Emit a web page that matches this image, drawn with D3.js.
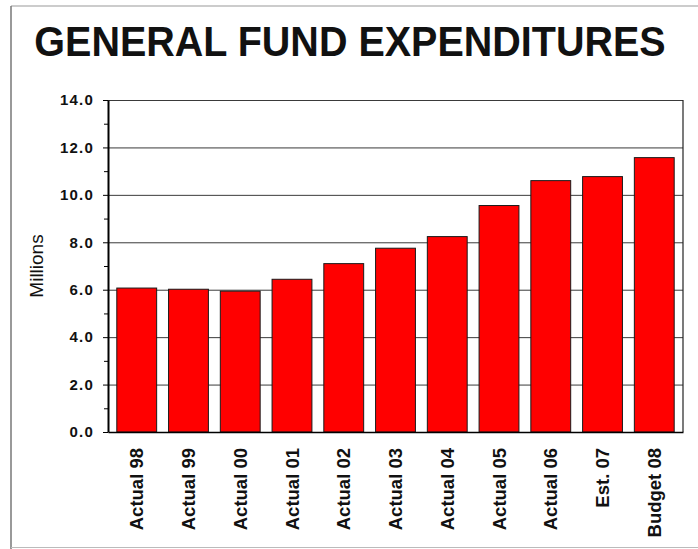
<!DOCTYPE html>
<html>
<head>
<meta charset="utf-8">
<script src="https://cdn.jsdelivr.net/npm/d3@7"></script>
<style>
  html, body { margin: 0; padding: 0; background: #fff; }
  svg { display: block; font-family: "Liberation Sans", Arial, sans-serif; }
</style>
</head>
<body>
<svg id="chart" width="698" height="549"></svg>
<script>
// General fund expenditures, in millions of dollars
const categories = ["Actual 98", "Actual 99", "Actual 00", "Actual 01", "Actual 02",
                    "Actual 03", "Actual 04", "Actual 05", "Actual 06", "Est. 07", "Budget 08"];
const expenditures = [6.07, 6.02, 5.94, 6.44, 7.10, 7.75, 8.24, 9.55, 10.60, 10.77, 11.57];
const yTicks = [0, 2, 4, 6, 8, 10, 12, 14];
const yMinorTicks = [1, 3, 5, 7, 9, 11, 13];
const titleText = "GENERAL FUND EXPENDITURES";
const yAxisTitle = "Millions";

const svg = d3.select("#chart");
const W = 698, H = 549;
const plot = { left: 108, right: 683, top: 100, bottom: 432 };

// Page frame
svg.append("line").attr("x1", 11).attr("x2", W).attr("y1", 6).attr("y2", 6)
  .attr("stroke", "#9a9a9a").attr("stroke-width", 1.2);
svg.append("line").attr("x1", 11).attr("x2", 11).attr("y1", 6).attr("y2", H)
  .attr("stroke", "#777").attr("stroke-width", 1.5);
svg.append("line").attr("x1", 11).attr("x2", W).attr("y1", 547.5).attr("y2", 547.5)
  .attr("stroke", "#bbb").attr("stroke-width", 1);

// Title (slightly stretched vertically for a condensed look)
svg.append("text")
  .attr("transform", "translate(350,56) scale(1,1.08)")
  .attr("text-anchor", "middle")
  .attr("font-size", 39.5).attr("font-weight", "bold").attr("fill", "#111")
  .text(titleText);

const x = d3.scaleBand().domain(categories)
  .range([plot.left, plot.right]).paddingInner(0.23).paddingOuter(0.17);
const y = d3.scaleLinear().domain([0, 14]).range([plot.bottom, plot.top]);

// Horizontal gridlines
svg.append("g")
  .selectAll("line").data(yTicks.filter(d => d > 0)).join("line")
  .attr("x1", plot.left).attr("x2", plot.right)
  .attr("y1", d => y(d) + 0.5).attr("y2", d => y(d) + 0.5)
  .attr("stroke", "#3a3a3a").attr("stroke-width", 1);

// Right border of plot area
svg.append("line").attr("x1", plot.right).attr("x2", plot.right)
  .attr("y1", plot.top).attr("y2", plot.bottom)
  .attr("stroke", "#222").attr("stroke-width", 1.2);

// Bars
svg.append("g")
  .selectAll("rect").data(categories).join("rect")
  .attr("x", d => x(d))
  .attr("width", x.bandwidth())
  .attr("y", (d, i) => y(expenditures[i]))
  .attr("height", (d, i) => y(0) - y(expenditures[i]))
  .attr("fill", "#ff0000")
  .attr("stroke", "#1a1a1a").attr("stroke-width", 1);

// Y axis: major ticks with labels, minor ticks without
const yAxis = d3.axisLeft(y).tickValues(yTicks).tickFormat(d3.format(".1f"))
  .tickSizeInner(5).tickSizeOuter(0).tickPadding(9);
const yg = svg.append("g").attr("transform", `translate(${plot.left},0)`).call(yAxis);
yg.select(".domain").attr("stroke", "#000").attr("stroke-width", 2);
yg.selectAll(".tick line").attr("stroke", "#000");
yg.selectAll(".tick text")
  .attr("font-size", 15).attr("font-weight", "bold").attr("fill", "#111")
  .attr("letter-spacing", "1.2px")
  .attr("font-family", "'Liberation Sans', Arial, sans-serif");

const yMinor = d3.axisLeft(y).tickValues(yMinorTicks).tickFormat("").tickSize(4).tickSizeOuter(0);
const ymg = svg.append("g").attr("transform", `translate(${plot.left},0)`).call(yMinor);
ymg.select(".domain").remove();
ymg.selectAll(".tick line").attr("stroke", "#000");

// X axis baseline and category labels
const xAxis = d3.axisBottom(x).tickSize(0).tickPadding(0);
const xg = svg.append("g").attr("transform", `translate(0,${plot.bottom})`).call(xAxis);
xg.select(".domain").attr("stroke", "#000").attr("stroke-width", 1.5);
xg.selectAll(".tick text")
  .attr("font-size", 18.5).attr("font-weight", "bold").attr("fill", "#111")
  .attr("font-family", "'Liberation Sans', Arial, sans-serif")
  .attr("text-anchor", "end")
  .attr("transform", "translate(0,16) rotate(-90)")
  .attr("x", 0).attr("y", 0).attr("dy", "0.36em");

// Y axis title
svg.append("text")
  .attr("transform", "translate(43,266) rotate(-90)")
  .attr("text-anchor", "middle")
  .attr("font-size", 19).attr("fill", "#111")
  .text(yAxisTitle);
</script>
</body>
</html>
